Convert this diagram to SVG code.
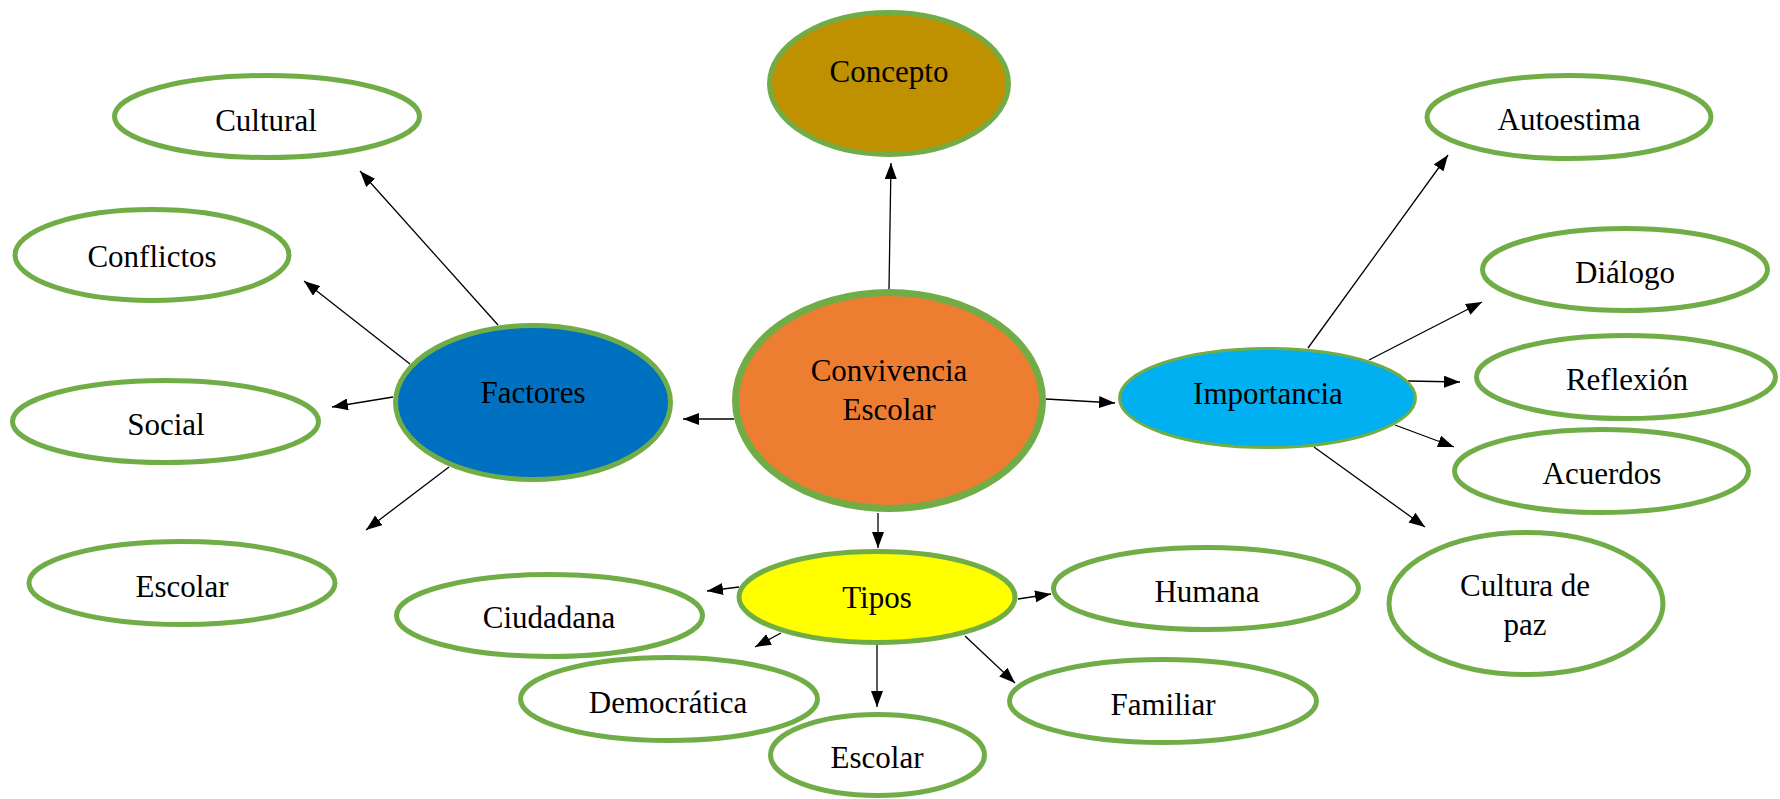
<svg xmlns="http://www.w3.org/2000/svg" width="1780" height="799" viewBox="0 0 1780 799">
<style>
.n{stroke:#70AD47;stroke-width:5;fill:#FFFFFF}
.t{font-family:"Liberation Serif","Times New Roman",serif;font-size:31px;fill:#000;text-anchor:middle}
.c line{stroke:#000;stroke-width:1.3;marker-end:url(#ah)}
</style>
<defs>
<marker id="ah" markerUnits="userSpaceOnUse" markerWidth="16" markerHeight="12" refX="16" refY="6" orient="auto">
<path d="M0,0 L16,6 L0,12 z" fill="#000"/>
</marker>
</defs>
<rect width="1780" height="799" fill="#FFFFFF"/>
<g id="connectors" class="c">
<line x1="889" y1="289" x2="891" y2="163"/>
<line x1="734" y1="419" x2="683" y2="419"/>
<line x1="1046" y1="399" x2="1115" y2="403"/>
<line x1="878" y1="513" x2="878" y2="548"/>
<line x1="498" y1="325" x2="360" y2="171"/>
<line x1="410" y1="364" x2="304" y2="281"/>
<line x1="393" y1="397" x2="332" y2="407"/>
<line x1="449" y1="467" x2="366" y2="530"/>
<line x1="739" y1="587" x2="707" y2="591"/>
<line x1="781" y1="633" x2="755" y2="647"/>
<line x1="877" y1="645" x2="877" y2="707"/>
<line x1="1018" y1="599" x2="1051" y2="594"/>
<line x1="965" y1="636" x2="1015" y2="683"/>
<line x1="1308" y1="348" x2="1448" y2="155"/>
<line x1="1369" y1="360" x2="1482" y2="302"/>
<line x1="1408" y1="381" x2="1460" y2="382"/>
<line x1="1395" y1="425" x2="1454" y2="447"/>
<line x1="1314" y1="447" x2="1425" y2="527"/>
</g>
<g id="concepto"><ellipse class="n" cx="889" cy="83.5" rx="119.5" ry="71" fill="#BF9000" style="fill:#BF9000"/><text class="t" x="889" y="82">Concepto</text></g>
<g id="convivencia"><ellipse class="n" cx="889" cy="400.5" rx="153.5" ry="108" style="fill:#ED7D31;stroke-width:7"/><text class="t" x="889" y="381">Convivencia</text><text class="t" x="889" y="420">Escolar</text></g>
<g id="factores"><ellipse class="n" cx="533" cy="402.5" rx="137.5" ry="77" style="fill:#0070C0"/><text class="t" x="533" y="403">Factores</text></g>
<g id="importancia"><ellipse class="n" cx="1267.5" cy="398" rx="148" ry="49.5" style="fill:#00B0F0;stroke-width:3"/><text class="t" x="1268" y="404">Importancia</text></g>
<g id="tipos"><ellipse class="n" cx="877" cy="597" rx="138" ry="45.5" style="fill:#FFFF00"/><text class="t" x="877" y="608">Tipos</text></g>
<g id="cultural"><ellipse class="n" cx="267" cy="116.5" rx="152.5" ry="41"/><text class="t" x="266" y="131">Cultural</text></g>
<g id="conflictos"><ellipse class="n" cx="152" cy="255" rx="137" ry="45.5"/><text class="t" x="152" y="267">Conflictos</text></g>
<g id="social"><ellipse class="n" cx="165.5" cy="421.5" rx="153" ry="41"/><text class="t" x="166" y="435">Social</text></g>
<g id="escolar-factor"><ellipse class="n" cx="182" cy="583" rx="153" ry="41.5"/><text class="t" x="182" y="597">Escolar</text></g>
<g id="autoestima"><ellipse class="n" cx="1569" cy="117" rx="142" ry="41.5"/><text class="t" x="1569" y="130">Autoestima</text></g>
<g id="dialogo"><ellipse class="n" cx="1625" cy="269.5" rx="142.5" ry="41"/><text class="t" x="1625" y="283">Diálogo</text></g>
<g id="reflexion"><ellipse class="n" cx="1626" cy="377" rx="149.5" ry="41.5"/><text class="t" x="1627" y="390">Reflexión</text></g>
<g id="acuerdos"><ellipse class="n" cx="1601.5" cy="471" rx="147" ry="41.5"/><text class="t" x="1602" y="484">Acuerdos</text></g>
<g id="cultura-paz"><ellipse class="n" cx="1526" cy="603.5" rx="137" ry="71"/><text class="t" x="1525" y="596">Cultura de</text><text class="t" x="1525" y="635">paz</text></g>
<g id="ciudadana"><ellipse class="n" cx="549.5" cy="615.5" rx="153" ry="41"/><text class="t" x="549" y="628">Ciudadana</text></g>
<g id="democratica"><ellipse class="n" cx="669" cy="699" rx="148.5" ry="41.5"/><text class="t" x="668" y="713">Democrática</text></g>
<g id="escolar-tipo"><ellipse class="n" cx="877.5" cy="755" rx="107" ry="40.5"/><text class="t" x="877" y="768">Escolar</text></g>
<g id="humana"><ellipse class="n" cx="1206" cy="588.5" rx="152.5" ry="41"/><text class="t" x="1207" y="602">Humana</text></g>
<g id="familiar"><ellipse class="n" cx="1163" cy="701" rx="153.5" ry="41.5"/><text class="t" x="1163" y="715">Familiar</text></g>
</svg>
